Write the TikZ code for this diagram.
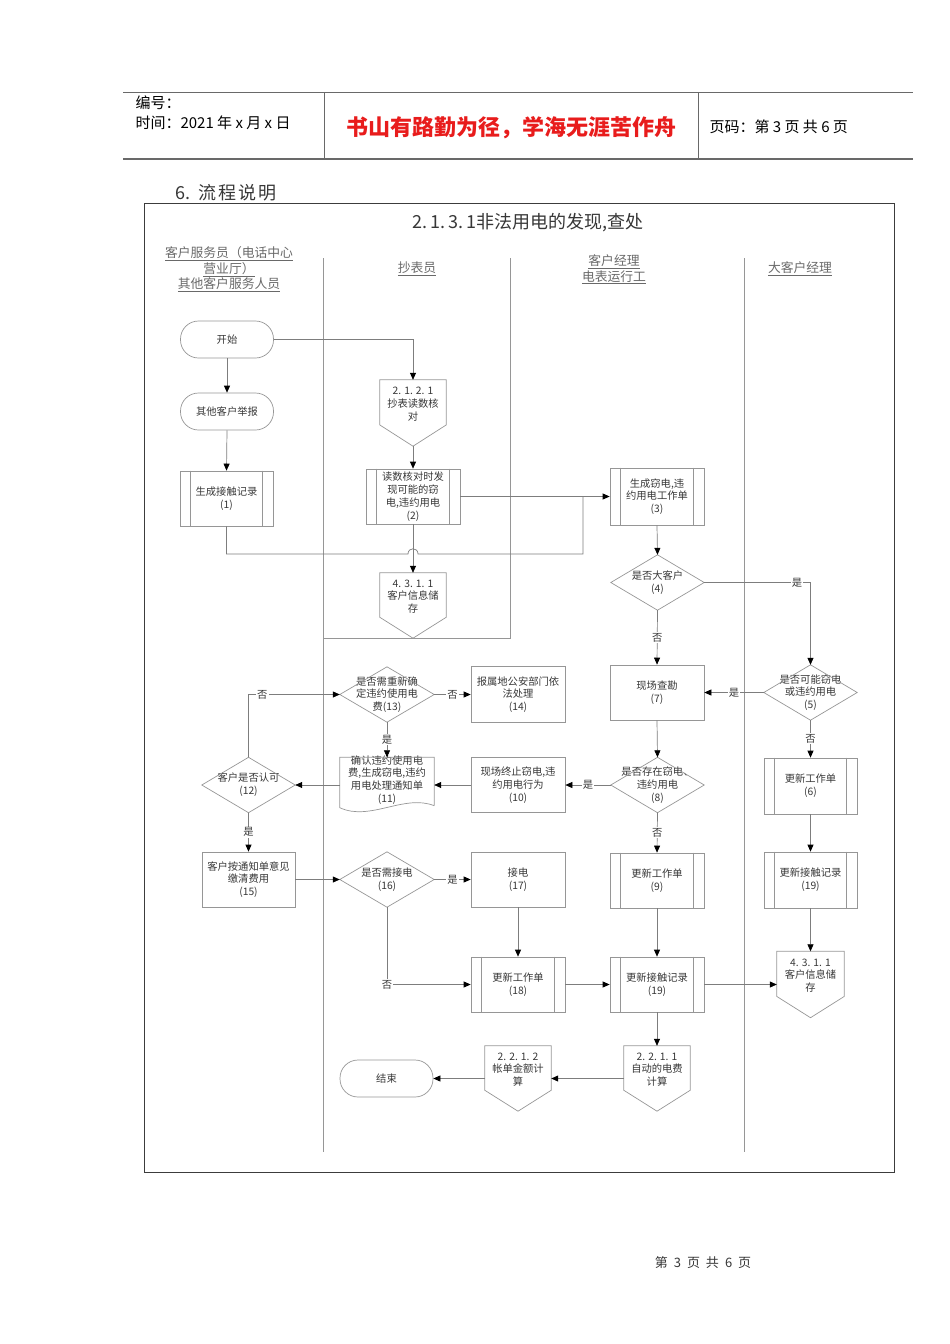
\documentclass[tikz,border=0pt]{standalone}
\usepackage{fontspec}
\setmainfont{Noto Sans CJK SC}
\usetikzlibrary{arrows.meta,calc}
\definecolor{bordergray}{RGB}{150,150,150}
\definecolor{linegray}{RGB}{125,125,125}
\definecolor{txtgray}{RGB}{55,55,55}
\definecolor{hdrgray}{RGB}{105,105,105}
\definecolor{framegray}{RGB}{60,60,60}
\definecolor{titlered}{RGB}{232,28,28}
\begin{document}
\begin{tikzpicture}[x=1pt,y=-1pt,
  nfont/.style={font=\fontsize{10.3}{12.8}\selectfont},
  base/.style={nfont, text=txtgray, align=center, inner sep=0pt, minimum width=94pt, minimum height=55pt},
  box/.style={base, draw=bordergray, line width=0.7pt},
  term/.style={box, rounded corners=18pt, minimum height=37pt, minimum width=93pt},
  bare/.style={base},
  shp/.style={draw=bordergray, line width=0.7pt},
  conn/.style={draw=linegray, line width=0.7pt},
  arr/.style={conn, -{Triangle[length=7pt,width=6pt,black]}},
  lab/.style={nfont, fill=white, text=txtgray, inner sep=1pt},
  lane/.style={draw=bordergray, line width=0.6pt},
  lanehead/.style={font=\fontsize{12.8}{15.5}\selectfont, text=hdrgray, align=center},
  pentxt/.style={nfont, text=txtgray, align=center, yshift=9pt},
]
\useasboundingbox (0,0) rectangle (950,1344);

% ---------- page header ----------
\draw[hdrgray, line width=0.7pt] (123,92) -- (913,92);
\draw[hdrgray, line width=1.8pt] (123,159) -- (913,159);
\draw[hdrgray, line width=0.7pt] (324,92) -- (324,159);
\draw[hdrgray, line width=0.7pt] (698,92) -- (698,159);
\node[anchor=west, align=left, font=\fontsize{15}{20}\selectfont] (hdl) at (132,113) {编号：\\时间：2021 年 x 月 x 日};
\node[font=\fontsize{22}{24}\selectfont\bfseries, text=titlered] (hdm) at (511,128) {书山有路勤为径，学海无涯苦作舟};
\node[anchor=west, font=\fontsize{15}{18}\selectfont] (hdr) at (706,127) {页码：第 3 页 共 6 页};

\node[anchor=west, font=\fontsize{18}{20}\selectfont, text=txtgray] (sec) at (172,193) {6.\hspace{8pt}流\hspace{2pt}程\hspace{2pt}说\hspace{2pt}明};

% ---------- frame ----------
\draw[framegray, line width=1pt] (144,203) rectangle (894,1172);
\node[font=\fontsize{18}{20}\selectfont, text=txtgray] (title) at (528,223) {2.\,1.\,3.\,1非法用电的发现,查处};

% ---------- lanes ----------
\draw[lane] (323,258) -- (323,1152);
\draw[lane] (510,258) -- (510,638) -- (323,638);
\draw[lane] (744,258) -- (744,1152);
\node[lanehead] (lh1) at (229,269.5) {\underline{客户服务员（电话中心}\\\underline{营业厅）}\\\underline{其他客户服务人员}};
\node[lanehead] (lh2) at (417,269) {\underline{抄表员}};
\node[lanehead] (lh3) at (614,269.5) {\underline{客户经理}\\\underline{电表运行工}};
\node[lanehead] (lh4) at (800,269) {\underline{大客户经理}};

% ---------- nodes ----------
\node[term] (start) at (227,339.5) {开始};
\node[term] (rep) at (227,411.5) {其他客户举报};
\node[box, minimum width=93pt] (n1) at (226.5,498.5) {生成接触记录\\(1)};
\node[bare, minimum width=66pt, minimum height=66pt, label={[pentxt]center:{2. 1. 2. 1\\抄表读数核\\对}}] (p1) at (413,413) {};
\node[box] (n2) at (413,496.5) {读数核对时发\\现可能的窃\\电,违约用电\\(2)};
\node[bare, minimum width=66pt, minimum height=65pt, label={[pentxt]center:{4. 3. 1. 1\\客户信息储\\存}}] (p2) at (413,605.5) {};
\node[box, minimum height=57pt] (n3) at (657,496.5) {生成窃电,违\\约用电工作单\\(3)};
\node[bare, minimum width=93pt] (d4) at (657.5,582.5) {是否大客户\\(4)};
\node[box] (n7) at (657,692.5) {现场查勘\\(7)};
\node[bare, minimum width=93pt] (d5) at (810.5,692.5) {是否可能窃电\\或违约用电\\(5)};
\node[box, minimum width=93pt, minimum height=56pt] (n6) at (810.5,786) {更新工作单\\(6)};
\node[box, minimum width=93pt, minimum height=56pt] (n19r) at (810.5,880) {更新接触记录\\(19)};
\node[bare, minimum width=67pt, minimum height=66pt, label={[pentxt]center:{4. 3. 1. 1\\客户信息储\\存}}] (p3) at (810.5,984.5) {};
\node[bare, minimum width=93pt] (d8) at (657.5,785) {是否存在窃电、\\违约用电\\(8)};
\node[box] (n9) at (657,880.5) {更新工作单\\(9)};
\node[box] (n10) at (518,785) {现场终止窃电,违\\约用电行为\\(10)};
\node[bare, label={[nfont, text=txtgray, align=center, yshift=5pt]center:{确认违约使用电\\费,生成窃电,违约\\用电处理通知单\\(11)}}] (d11) at (387,785) {};
\node[bare, minimum width=93pt] (d12) at (248.5,785) {客户是否认可\\(12)};
\node[bare] (d13) at (387,694.5) {是否需重新确\\定违约使用电\\费(13)};
\node[box, minimum height=56pt] (n14) at (518,694.5) {报属地公安部门依\\法处理\\(14)};
\node[box, minimum width=93pt] (n15) at (248.5,879.5) {客户按通知单意见\\缴清费用\\(15)};
\node[bare] (d16) at (387,879.5) {是否需接电\\(16)};
\node[box] (n17) at (518,879.5) {接电\\(17)};
\node[box] (n18) at (518,984.5) {更新工作单\\(18)};
\node[box] (n19c) at (657,984.5) {更新接触记录\\(19)};
\node[bare, minimum width=66pt, minimum height=65pt, label={[pentxt]center:{2. 2. 1. 1\\自动的电费\\计算}}] (p4) at (657,1078.5) {};
\node[bare, minimum width=66pt, minimum height=65pt, label={[pentxt]center:{2. 2. 1. 2\\帐单金额计\\算}}] (p5) at (518,1078.5) {};
\node[term] (end) at (386.5,1078.5) {结束};

% ---------- shapes ----------
\foreach \n in {n1,n2,n3,n6,n19r,n9,n18,n19c}{
  \draw[shp] ([xshift=11pt]\n.north west) -- ([xshift=11pt]\n.south west);
  \draw[shp] ([xshift=-11pt]\n.north east) -- ([xshift=-11pt]\n.south east);
}
\foreach \n in {d4,d5,d8,d12,d13,d16}{
  \draw[shp] (\n.north) -- (\n.east) -- (\n.south) -- (\n.west) -- cycle;
}
\foreach \n in {p1,p2,p3,p4,p5}{
  \draw[shp] (\n.north west) -- (\n.north east) -- ($(\n.north east)!0.68!(\n.south east)$) -- (\n.south) -- ($(\n.north west)!0.68!(\n.south west)$) -- cycle;
}
\draw[shp] ($(d11.south east)+(0,-7)$) -- (d11.north east) -- (d11.north west) -- ($(d11.south west)+(0,-5)$)
  .. controls +(30,14) and +(-30,-12) .. ($(d11.south east)+(0,-7)$);

% ---------- connectors ----------
\draw[arr] (start.south) -- (rep.north);
\draw[arr] (start.east) -| (p1.north);
\draw[arr] (rep.south) -- (n1.north);
\draw[arr] (p1.south) -- (n2.north);
\draw[arr] (n2.south) -- (p2.north);
\draw[arr] (n2.east) -- (n3.west);
\coordinate (hopA) at (408,554);
\coordinate (hopB) at (418,554);
\coordinate (j2) at (583,554);
\coordinate (j3) at (583,496.5);
\draw[conn] (n1.south) |- (hopA) .. controls +(0,-7) and +(0,-7) .. (hopB) -- (j2) -- (j3);
\draw[arr] (n3.south) -- (d4.north);
\draw[arr] (d4.east) -| node[lab, pos=0.437] {是} (d5.north);
\draw[arr] (d4.south) -- node[lab] {否} (n7.north);
\draw[arr] (d5.west) -- node[lab] {是} (n7.east);
\draw[arr] (d5.south) -- node[lab] {否} (n6.north);
\draw[arr] (n6.south) -- (n19r.north);
\draw[arr] (n19r.south) -- (p3.north);
\draw[arr] (n7.south) -- (d8.north);
\draw[arr] (d8.west) -- node[lab] {是} (n10.east);
\draw[arr] (d8.south) -- node[lab] {否} (n9.north);
\draw[arr] (n9.south) -- (n19c.north);
\draw[arr] (n10.west) -- (d11.east);
\draw[arr] (d11.west) -- (d12.east);
\draw[arr] (d12.north) |- node[lab, pos=0.576] {否} (d13.west);
\draw[arr] (d13.east) -- node[lab] {否} (n14.west);
\draw[arr] (d13.south) -- node[lab] {是} (d11.north);
\draw[arr] (d12.south) -- node[lab] {是} (n15.north);
\draw[arr] (n15.east) -- (d16.west);
\draw[arr] (d16.east) -- node[lab] {是} (n17.west);
\draw[arr] (d16.south) |- node[lab, pos=0.5] {否} (n18.west);
\draw[arr] (n17.south) -- (n18.north);
\draw[arr] (n18.east) -- (n19c.west);
\draw[arr] (n19c.east) -- (p3.west);
\draw[arr] (n19c.south) -- (p4.north);
\draw[arr] (p4.west) -- (p5.east);
\draw[arr] (p5.west) -- (end.east);

% ---------- footer ----------
\node[font=\fontsize{13}{15}\selectfont, text=txtgray] (foot) at (703,1263) {第\hspace{6pt}3\hspace{6pt}页\hspace{6pt}共\hspace{6pt}6\hspace{6pt}页};
\end{tikzpicture}
\end{document}
